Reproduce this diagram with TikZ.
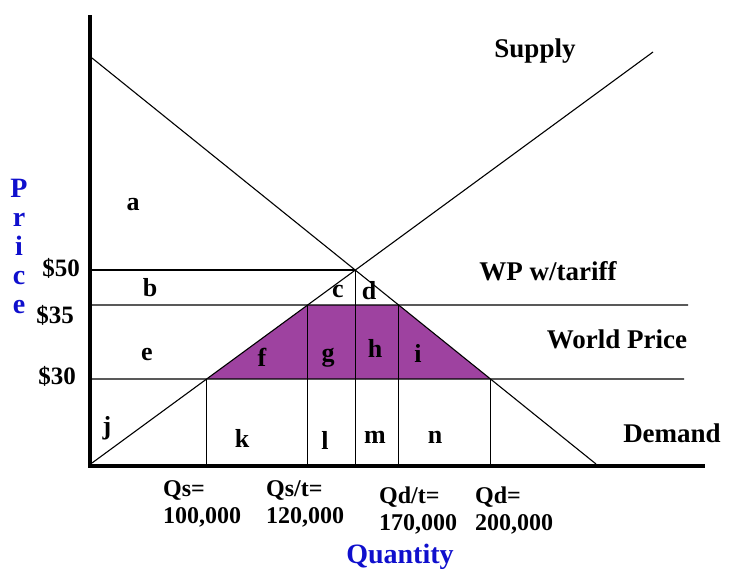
\documentclass[tikz,border=0pt]{standalone}
\usepackage{fontspec}
\setmainfont{Liberation Serif}
\usetikzlibrary{calc}

\definecolor{gainpurple}{RGB}{158,66,160}
\definecolor{axisblue}{RGB}{15,15,205}

\begin{document}
\begin{tikzpicture}[x=1pt,y=-1pt,
    axis/.style={line width=4pt},
    curve/.style={line width=1.1pt},
    level/.style={line width=1.3pt},
    area/.style={font=\fontsize{26}{26}\selectfont\bfseries, inner sep=0pt},
    tag/.style={font=\fontsize{27}{27}\selectfont\bfseries, inner sep=0pt, anchor=base},
    pricetag/.style={font=\fontsize{25}{25}\selectfont\bfseries, inner sep=0pt, anchor=base},
    qty/.style={font=\fontsize{24}{24}\selectfont\bfseries, inner sep=0pt, anchor=base west},
    axistitle/.style={font=\fontsize{28}{28}\selectfont\bfseries, text=axisblue, inner sep=0pt, anchor=base}]
  \useasboundingbox (0,0) rectangle (729,573);

  % demand, supply and the points where the price levels cut them
  \coordinate (o) at (90,466);
  \coordinate (d0) at (92,58);
  \coordinate (d1) at (596,464);
  \coordinate (s0) at (92,463);
  \coordinate (s1) at (653,52);
  \coordinate (eq) at ($(s0)!0.4693!(s1)$);
  \coordinate (s35) at ($(s0)!0.3844!(s1)$);
  \coordinate (s30) at ($(s0)!0.2044!(s1)$);
  \coordinate (d35) at ($(d0)!0.6084!(d1)$);
  \coordinate (d30) at ($(d0)!0.7906!(d1)$);

  \fill[gainpurple] (s30) -- (s35) -- (d35) -- (d30) -- cycle;

  \draw[level] (eq -| o) -- (eq);
  \draw[level] (s35 -| o) -- (688,305) coordinate (w35);
  \draw[level] (s30 -| o) -- (684,379) coordinate (w30);
  \foreach \p in {s30,s35,eq,d35,d30}
    \draw[level] (\p) -- (\p |- o);

  \draw[curve] (d0) -- (d1);
  \draw[curve] (s0) -- (s1);
  \draw[axis] (90,15) -- (o) -- (705,466);

  \node[tag] (supply) at (535,57) {Supply};
  \node[tag] (wpt) at (548,280) {WP w/tariff};
  \node[tag] (wp) at (617,348) {World Price};
  \node[tag] (demand) at (672,442) {Demand};

  \node[pricetag] (p50) at (61,276) {\$50};
  \node[pricetag] (p35) at (55,323) {\$35};
  \node[pricetag] (p30) at (57,384) {\$30};

  \node[area] (a) at (133,205) {a};
  \node[area] (b) at (150,288) {b};
  \node[area] (c) at (338,291) {c};
  \node[area] (d) at (369,291) {d};
  \node[area] (e) at (147,355) {e};
  \node[area] (f) at (262,357) {f};
  \node[area] (g) at (328,358) {g};
  \node[area] (h) at (375,348) {h};
  \node[area] (i) at (418,353) {i};
  \node[area] (j) at (107,428) {j};
  \node[area] (k) at (242,438) {k};
  \node[area] (l) at (325,440) {l};
  \node[area] (m) at (375,437) {m};
  \node[area] (n) at (435,437) {n};

  \node[qty] (qs) at (163,496) {Qs=};
  \node[qty] (qsv) at (163,523) {100,000};
  \node[qty] (qst) at (266,496) {Qs/t=};
  \node[qty] (qstv) at (266,523) {120,000};
  \node[qty] (qdt) at (379,503) {Qd/t=};
  \node[qty] (qdtv) at (379,530) {170,000};
  \node[qty] (qd) at (475,503) {Qd=};
  \node[qty] (qdv) at (475,530) {200,000};

  \node[axistitle] (quantity) at (400,563) {Quantity};
  \foreach \ch [count=\k] in {P,r,i,c,e}
    \node[axistitle] (price\k) at (19,{197+29*(\k-1)}) {\ch};
\end{tikzpicture}
\end{document}
